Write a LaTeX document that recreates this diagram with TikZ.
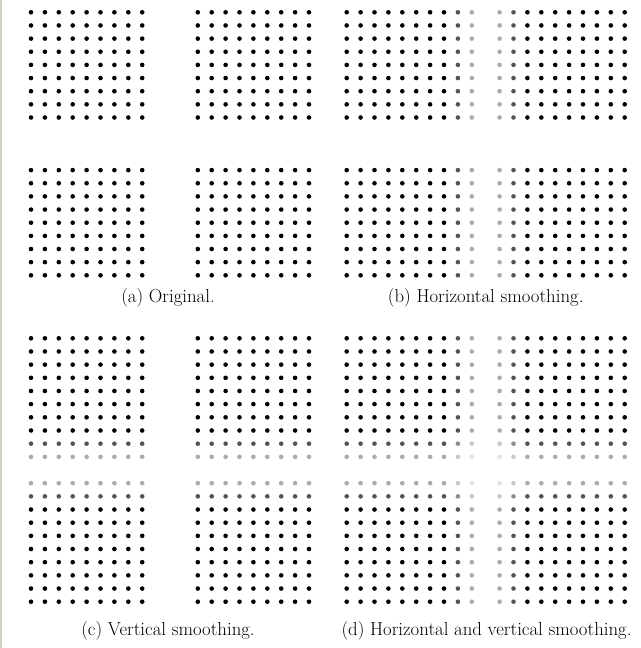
\documentclass[tikz,border=0pt]{standalone}
\usetikzlibrary{calc}
\definecolor{edgestrip}{RGB}{205,213,200}
\begin{document}
\begin{tikzpicture}[x=1pt,y=-1pt,
  captionstyle/.style={font=\fontsize{18.8}{21}\selectfont,inner sep=0pt}]
\useasboundingbox (0,0) rectangle (640,648);
\fill[white] (0,0) rectangle (640,648);
\fill[edgestrip] (0,0) rectangle (2.2,648);
\def\listA{0/100,1/100,2/100,3/100,4/100,5/100,6/100,7/100,8/100,12/100,13/100,14/100,15/100,16/100,17/100,18/100,19/100,20/100}
\def\listB{0/100,1/100,2/100,3/100,4/100,5/100,6/100,7/100,8/67,9/33,11/33,12/67,13/100,14/100,15/100,16/100,17/100,18/100,19/100,20/100}
\newcommand{\dotpanel}[5]{%
  \foreach \i/\wx in #4 {%
    \foreach \j/\wy in #5 {%
      \pgfmathsetmacro{\shade}{\wx*\wy/100}%
      \fill[black!\shade] ({#1+\i*13.9},{#2+\j*#3}) circle (2.3);
    }%
  }%
}
\dotpanel{31}{12.3}{13.15}{\listA}{\listA}
\dotpanel{346.7}{12.3}{13.15}{\listB}{\listA}
\dotpanel{31}{338.3}{13.17}{\listA}{\listB}
\dotpanel{346.7}{338.3}{13.17}{\listB}{\listB}
\node[captionstyle] (capa) at (168,298) {(a) Original.};
\node[captionstyle] (capb) at (485.7,298) {(b) Horizontal smoothing.};
\node[captionstyle] (capc) at (168,631) {(c) Vertical smoothing.};
\node[captionstyle] (capd) at (486.5,631) {(d) Horizontal and vertical smoothing.};
\end{tikzpicture}
\end{document}
